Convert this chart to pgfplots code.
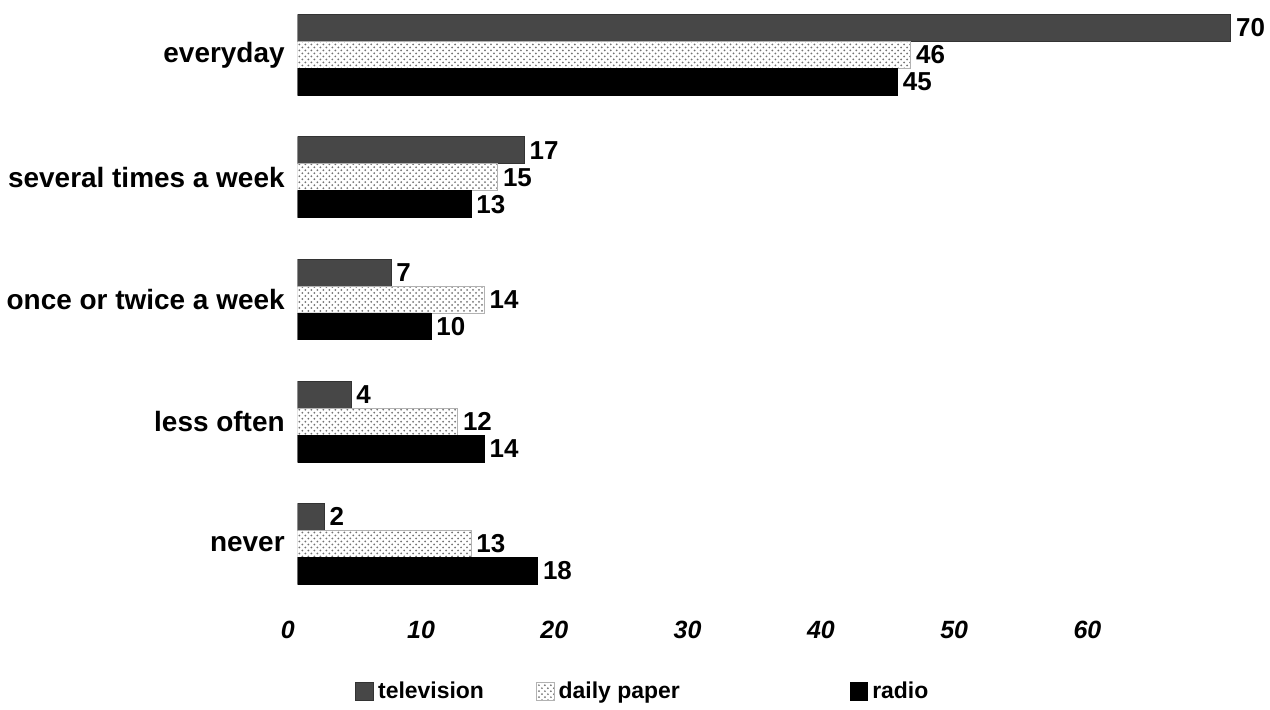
\documentclass[border=0pt]{standalone}
\usepackage{fontspec}
\setmainfont{Liberation Sans}
\usepackage{pgfplots}
\pgfplotsset{compat=1.18}
\usetikzlibrary{patterns}
\begin{document}
\begin{tikzpicture}[font=\bfseries]
\begin{axis}[
  scale only axis,
  width=467.5pt, height=302.5pt,
  xbar, bar width=13.5pt,
  xmin=0, xmax=70,
  ymin=-0.45, ymax=4.49,
  y dir=reverse,
  axis line style={draw=none},
  tick style={draw=none},
  major tick length=0pt,
  xtick={0,10,...,60},
  ytick={0,1,2,3,4},
  yticklabels={everyday, several times a week, once or twice a week, less often, never},
  /pgf/number format/assume math mode=true,
  xticklabel style={font=\fontsize{12.5}{14}\selectfont\bfseries\itshape, yshift=-5pt, xshift=-5pt},
  yticklabel style={font=\fontsize{14}{16}\selectfont\bfseries, xshift=-3pt},
  nodes near coords,
  nodes near coords style={font=\fontsize{13}{15}\selectfont\bfseries, anchor=west, inner sep=2.5pt, text=black},
  legend style={at={(0.055,-0.145)}, anchor=west, legend columns=3, draw=none, fill=none,
    font=\fontsize{11.5}{13}\selectfont\bfseries,
    /tikz/every even column/.append style={column sep=24pt}},
  legend image code/.code={\draw[#1] (0pt,-4.5pt) rectangle (9pt,4.5pt);},
]
\addplot[draw=black!80, fill=black!72, bar shift=13.5pt] coordinates {(70,0) (17,1) (7,2) (4,3) (2,4)};
\addplot[draw=black!30, fill=white, pattern=crosshatch dots, pattern color=black!55, bar shift=0pt] coordinates {(46,0) (15,1) (14,2) (12,3) (13,4)};
\addplot[draw=black, fill=black, bar shift=-13.5pt] coordinates {(45,0) (13,1) (10,2) (14,3) (18,4)};
\addlegendentry{television}
\addlegendentry{daily paper\hspace*{59pt}}
\addlegendentry{radio}
\end{axis}
\end{tikzpicture}
\end{document}
